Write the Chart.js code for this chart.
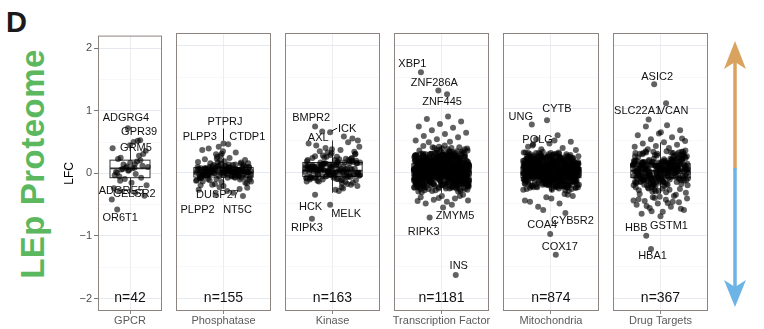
<!DOCTYPE html>
<html>
<head>
<meta charset="utf-8">
<script src="https://cdn.jsdelivr.net/npm/chart.js@4.4.1/dist/chart.umd.min.js"></script>
<style>
html, body { margin: 0; padding: 0; background: #fff; }
body { width: 764px; height: 329px; position: relative; overflow: hidden; font-family: "Liberation Sans", Arial, sans-serif; }
canvas.panel { position: absolute; top: 27px; }
#tag { position: absolute; left: 6px; top: 8px; font: bold 29px/1 "Liberation Sans", Arial, sans-serif; color: #1a1a1a; }
#side { position: absolute; left: 31.5px; top: 164px; transform: translate(-50%, -50%) rotate(-90deg);
  font: bold 33px/1 "Liberation Sans", Arial, sans-serif; letter-spacing: 0.5px; color: #5cb85f; white-space: nowrap; }
#arrow { position: absolute; left: 0; top: 0; }
</style>
</head>
<body>
<div id="tag">D</div>
<div id="side">LEp Proteome</div>
<svg id="arrow" width="764" height="329">
  <line x1="735" y1="60" x2="735" y2="169" stroke="#d9a35f" stroke-width="3.5"/>
  <line x1="735" y1="168" x2="735" y2="289" stroke="#6db4e6" stroke-width="3.5"/>
  <polygon points="735,41 746,69 735,62 724,69" fill="#d9a35f"/>
  <polygon points="735,307 746,280 735,287 724,280" fill="#6db4e6"/>
</svg>
<script>
const categories = ['GPCR', 'Phosphatase', 'Kinase', 'Transcription Factor', 'Mitochondria', 'Drug Targets'];
const nCounts = [42, 155, 163, 1181, 874, 367];

// boxplot stats
const boxQ1 = [-0.07, -0.08, -0.07, -0.06, -0.09, -0.09];
const boxMed = [0.08, -0.01, 0.02, 0.02, -0.01, 0.02];
const boxQ3 = [0.21, 0.07, 0.15, 0.13, 0.07, 0.13];
const whiskerLow = [-0.31, -0.26, -0.33, -0.33, -0.32, -0.34];
const whiskerHigh = [0.45, 0.23, 0.50, 0.42, 0.31, 0.47];

const yTicks = [-2, -1, 0, 1, 2];
const yGrid = [-2, -1.5, -1, -0.5, 0, 0.5, 1, 1.5, 2];

// labelled genes
const geneNames = ['ADGRG4', 'GPR39', 'GRM5', 'ADGRE5', 'CELSR2', 'OR6T1',
  'PTPRJ', 'PLPP3', 'CTDP1', 'DUSP27', 'PLPP2', 'NT5C',
  'BMPR2', 'AXL', 'ICK', 'HCK', 'MELK', 'RIPK3',
  'XBP1', 'ZNF286A', 'ZNF445', 'ZMYM5', 'RIPK3', 'INS',
  'UNG', 'CYTB', 'POLG', 'COA4', 'CYB5R2', 'COX17',
  'ASIC2', 'SLC22A1', 'VCAN', 'HBB', 'GSTM1', 'HBA1'];
const genePanel = [0, 0, 0, 0, 0, 0, 1, 1, 1, 1, 1, 1, 2, 2, 2, 2, 2, 2,
  3, 3, 3, 3, 3, 3, 4, 4, 4, 4, 4, 4, 5, 5, 5, 5, 5, 5];
const geneLFC = [0.72, 0.53, 0.45, -0.28, -0.31, -0.58,
  0.45, 0.40, 0.44, -0.22, -0.35, -0.33,
  0.72, 0.64, 0.63, -0.36, -0.52, -0.74,
  1.58, 1.29, 1.23, -0.56, -0.72, -1.63,
  0.75, 0.82, 0.42, -0.98, -0.65, -1.31,
  1.39, 0.83, 1.09, -1.01, -0.70, -1.22];
const geneJitter = [-0.04, 0.19, 0.0, -0.2, 0.1, -0.24,
  0.0, -0.06, 0.06, 0.0, -0.1, 0.12,
  -0.22, -0.13, -0.03, -0.22, -0.03, -0.26,
  -0.26, -0.04, 0.07, 0.02, -0.15, 0.18,
  -0.24, -0.05, -0.23, -0.01, 0.18, 0.06,
  -0.08, -0.15, 0.07, -0.18, 0.0, -0.12];

// the other (unlabelled) points per panel
const gpcrValues = [0.09, -0.12, 0.31, 0.05, -0.03, 0.52, 0.14, -0.19, 0.08, 0.23,
  -0.07, 0.11, 0.40, -0.01, 0.06, -0.36, 0.17, 0.02, 0.28, -0.09,
  0.10, 0.50, -0.05, 0.12, 0.04, -0.24, 0.19, 0.07, 0.36, -0.15,
  0.01, 0.21, 0.09, -0.42, 0.15, 0.25];

const phosValues = [0.02, -0.05, 0.11, -0.01, 0.06, -0.09, 0.03, 0.14, -0.03, 0.00,
  -0.12, 0.05, 0.08, -0.06, 0.01, 0.19, -0.02, -0.15, 0.04, 0.07,
  -0.08, 0.12, -0.04, 0.02, 0.26, -0.10, 0.00, 0.09, -0.18, 0.03,
  0.06, -0.07, 0.15, -0.01, 0.01, -0.13, 0.10, 0.04, -0.05, 0.31,
  -0.02, 0.07, -0.09, 0.02, 0.13, -0.24, 0.05, -0.03, 0.00, 0.08,
  0.17, -0.06, 0.03, -0.11, 0.01, 0.22, -0.04, 0.06, -0.16, 0.02,
  -0.08, 0.11, 0.00, -0.02, 0.05, -0.27, 0.09, 0.03, -0.07, 0.14,
  0.01, -0.05, 0.35, -0.01, 0.04, -0.12, 0.07, 0.02, -0.09, 0.18,
  -0.03, 0.06, -0.20, 0.00, 0.10, -0.06, 0.03, 0.24, -0.14, 0.01,
  0.08, -0.04, 0.05, -0.10, 0.12, -0.02, 0.00, -0.30, 0.06, 0.02,
  -0.07, 0.16, 0.04, -0.01, -0.17, 0.09, 0.01, -0.05, 0.28, -0.03,
  0.07, -0.11, 0.02, 0.13, -0.08, 0.00, 0.05, -0.25, 0.03, 0.20,
  -0.04, 0.10, -0.13, 0.01, 0.06, -0.02, 0.33, -0.07, 0.04, -0.19,
  0.08, 0.02, -0.06, 0.15, -0.01, -0.28, 0.11, 0.03, -0.09, 0.05,
  0.00, -0.03, 0.21, -0.15, 0.07, 0.37, -0.38, 0.29, -0.21];

const kinaseValues = [0.03, -0.05, 0.18, 0.08, -0.12, 0.01, 0.26, -0.02, 0.11, -0.08,
  0.14, 0.00, -0.15, 0.05, 0.33, -0.04, 0.09, -0.10, 0.21, 0.02,
  -0.06, 0.16, 0.04, -0.20, 0.12, 0.45, -0.01, 0.07, -0.13, 0.19,
  0.01, -0.08, 0.24, 0.06, -0.03, 0.10, -0.17, 0.30, 0.03, -0.06,
  0.13, 0.50, -0.11, 0.02, 0.17, -0.02, 0.08, -0.24, 0.15, 0.05,
  -0.09, 0.22, 0.00, 0.38, -0.05, 0.11, -0.14, 0.04, 0.27, -0.01,
  0.09, -0.07, 0.14, -0.28, 0.06, 0.19, 0.01, -0.10, 0.35, 0.03,
  -0.04, 0.12, 0.07, -0.16, 0.23, -0.02, 0.16, 0.42, -0.08, 0.05,
  0.10, -0.12, 0.02, 0.29, -0.06, 0.08, -0.19, 0.13, 0.00, 0.20,
  -0.03, 0.53, 0.06, -0.09, 0.15, 0.04, -0.22, 0.11, 0.25, -0.05,
  0.01, 0.17, -0.13, 0.07, 0.32, -0.01, 0.09, -0.07, 0.14, 0.40,
  -0.11, 0.03, 0.21, -0.04, 0.05, -0.26, 0.12, 0.18, -0.02, 0.08,
  0.47, -0.06, 0.10, 0.02, -0.15, 0.16, 0.36, -0.08, 0.04, 0.13,
  -0.01, 0.24, -0.10, 0.06, 0.00, 0.19, -0.18, 0.09, 0.28, -0.03,
  0.11, 0.05, -0.07, 0.15, -0.30, 0.02, 0.22, -0.05, 0.07, 0.56,
  -0.12, 0.14, 0.01, 0.08, -0.02, 0.31, -0.09];

const tfValues = [0.88, 0.84, 0.80, 0.76, 0.72, 0.70, 0.66, 0.62, 0.60, 0.57, 0.55, 0.52, 0.50, 0.48, 0.47,
  -0.36, -0.38, -0.40, -0.42, -0.44, -0.45, -0.47, -0.50, -0.38, -0.41, -0.46, -0.52,
  0.05, -0.12, 0.21, -0.03, 0.33, 0.10, -0.25, 0.01, 0.16, -0.08, 0.27, -0.18, 0.07, 0.39, -0.01, 0.13, -0.29, 0.03, 0.22, -0.06,
  0.11, -0.15, 0.30, 0.00, -0.22, 0.18, 0.06, -0.10, 0.36, 0.02, -0.04, 0.25, -0.31, 0.09, 0.14, -0.19, 0.04, 0.41, -0.07, 0.20,
  -0.02, 0.28, -0.13, 0.08, 0.17, -0.27, 0.12, -0.05, 0.34, 0.01, -0.16, 0.23, 0.06, -0.09, 0.38, -0.21, 0.15, 0.03, -0.01, 0.26,
  0.10, -0.24, 0.19, -0.03, 0.31, 0.05, -0.14, 0.12, -0.30, 0.07, 0.24, -0.08, 0.00, 0.35, -0.17, 0.09, 0.16, -0.11, 0.02, 0.29,
  -0.06, 0.14, -0.20, 0.21, 0.04, -0.28, 0.40, 0.11, -0.02, 0.18, -0.12, 0.06, 0.27, -0.23, 0.13, -0.04, 0.33, 0.01, -0.15, 0.08,
  0.22, -0.09, 0.03, 0.37, -0.26, 0.15, -0.01, 0.10, -0.18, 0.25, 0.05, -0.07, 0.30, -0.32, 0.12, 0.00, -0.13, 0.19, 0.07, -0.05,
  0.16, -0.21, 0.26, 0.02, -0.10, 0.42, 0.09, -0.16, 0.14, -0.02, 0.32, -0.27, 0.06, 0.20, -0.08, 0.11, -0.19, 0.04, 0.28, -0.03,
  0.13, 0.01, -0.24, 0.23, -0.06, 0.36, 0.08, -0.14, 0.17, -0.29, 0.05, 0.27, -0.11, 0.10, -0.01, 0.34, -0.20, 0.15, 0.03, -0.09,
  0.19, -0.04, 0.31, -0.17, 0.06, 0.12, -0.25, 0.24, 0.00, -0.12, 0.38, 0.09, -0.07, 0.21, -0.30, 0.14, 0.02, -0.15, 0.29, 0.07,
  -0.02, 0.17, -0.22, 0.04, 0.26, -0.10, 0.11, 0.33, -0.05, 0.08, -0.18, 0.20, -0.28, 0.13, 0.01, 0.39, -0.08, 0.16, -0.13, 0.05,
  0.24, -0.01, 0.10, -0.26, 0.30, 0.03, -0.16, 0.18, -0.06, 0.35, 0.12, -0.20, 0.07, -0.11, 0.22, 0.00, -0.31, 0.15, 0.27, -0.03,
  0.09, -0.14, 0.37, 0.02, -0.09, 0.19, -0.23, 0.11, 0.28, -0.04, 0.06, -0.17, 0.32, 0.14, -0.27, 0.04, 0.21, -0.07, 0.01, 0.25,
  0.02, -0.08, 0.15, -0.14, 0.07, 0.24, -0.03, 0.11, -0.19, 0.04, 0.18, -0.06, 0.09, -0.22, 0.13, 0.00, 0.27, -0.11, 0.06, -0.01,
  -0.16, 0.12, 0.03, 0.21, -0.07, 0.08, -0.24, 0.16, -0.02, 0.05, 0.29, -0.12, 0.01, 0.19, -0.09, 0.10, -0.18, 0.14, 0.04, -0.05,
  0.09, -0.21, 0.17, -0.04, 0.02, 0.25, -0.13, 0.07, -0.08, 0.12, 0.00, -0.17, 0.22, 0.05, -0.10, 0.15, -0.02, 0.28, -0.15, 0.03,
  0.13, -0.06, 0.08, -0.23, 0.19, 0.01, -0.11, 0.26, -0.04, 0.10, -0.16, 0.06, 0.17, -0.01, 0.23, -0.20, 0.04, 0.11, -0.07, 0.00,
  -0.12, 0.20, -0.03, 0.07, 0.14, -0.19, 0.02, 0.30, -0.09, 0.16, 0.05, -0.14, 0.09, -0.25, 0.12, 0.18, -0.05, 0.01, 0.24, -0.10,
  0.06, -0.02, 0.21, -0.15, 0.10, -0.07, 0.03, 0.17, -0.22, 0.08, 0.27, -0.04, 0.13, -0.12, 0.00, 0.22, -0.17, 0.05, -0.08, 0.15,
  -0.05, 0.11, -0.20, 0.04, 0.19, -0.09, 0.25, 0.01, -0.14, 0.09, -0.01, 0.16, -0.24, 0.07, 0.13, -0.06, 0.28, -0.11, 0.03, 0.20,
  0.14, -0.17, 0.06, 0.23, -0.03, 0.10, -0.12, 0.02, 0.18, -0.21, 0.08, -0.07, 0.26, 0.00, -0.15, 0.12, 0.05, -0.02, 0.21, -0.10,
  0.01, 0.17, -0.09, 0.12, -0.23, 0.07, 0.22, -0.05, 0.15, -0.13, 0.04, 0.29, -0.18, 0.09, -0.01, 0.19, -0.08, 0.11, -0.26, 0.06,
  -0.11, 0.08, 0.16, -0.02, 0.25, -0.16, 0.03, 0.13, -0.07, 0.20, -0.20, 0.05, 0.10, -0.12, 0.27, 0.00, -0.04, 0.17, -0.14, 0.09,
  0.04, -0.10, 0.22, -0.18, 0.11, 0.01, -0.06, 0.18, -0.25, 0.14, 0.07, -0.03, 0.24, -0.13, 0.02, 0.16, -0.09, 0.30, -0.01, 0.12,
  -0.07, 0.15, -0.14, 0.05, 0.21, -0.22, 0.09, -0.02, 0.13, 0.26, -0.11, 0.00, 0.18, -0.05, 0.08, -0.19, 0.23, 0.03, -0.16, 0.10,
  0.12, -0.04, 0.07, -0.20, 0.17, 0.02, -0.12, 0.28, -0.08, 0.06, 0.14, -0.24, 0.11, -0.01, 0.20, -0.15, 0.04, 0.25, -0.06, 0.01,
  -0.13, 0.19, 0.00, -0.09, 0.10, 0.23, -0.17, 0.05, -0.03, 0.15, -0.21, 0.08, 0.26, -0.10, 0.03, 0.13, -0.05, 0.18, -0.26, 0.07,
  0.05, -0.15, 0.24, -0.06, 0.12, -0.01, 0.20, -0.12, 0.02, 0.16, -0.19, 0.09, -0.04, 0.29, -0.08, 0.11, 0.00, -0.22, 0.14, 0.06,
  -0.03, 0.13, -0.18, 0.08, 0.27, -0.10, 0.04, 0.17, -0.14, 0.01, 0.22, -0.07, 0.10, -0.23, 0.15, 0.03, -0.02, 0.19, -0.11, 0.25,
  0.08, -0.12, 0.18, -0.01, 0.05, -0.20, 0.14, 0.24, -0.06, 0.11, -0.16, 0.02, 0.21, -0.09, 0.07, -0.25, 0.16, 0.00, 0.28, -0.04,
  -0.08, 0.10, 0.03, -0.17, 0.20, -0.02, 0.13, -0.13, 0.25, 0.06, -0.05, 0.15, -0.21, 0.09, 0.01, 0.18, -0.10, 0.23, -0.15, 0.04,
  0.11, -0.01, -0.19, 0.16, 0.07, -0.08, 0.22, -0.24, 0.12, 0.03, -0.11, 0.27, -0.03, 0.09, -0.16, 0.19, 0.05, -0.06, 0.14, 0.00,
  -0.14, 0.21, 0.06, -0.04, 0.17, -0.18, 0.10, 0.01, -0.09, 0.26, -0.12, 0.13, 0.04, -0.20, 0.08, 0.24, -0.02, 0.12, -0.07, 0.18];

const mitoValues = [0.58, 0.52, 0.48, 0.45, 0.40, 0.38, 0.36, 0.35, 0.50, 0.44,
  -0.36, -0.40, -0.45, -0.50, -0.55, -0.38, -0.42, -0.47, -0.35, -0.60,
  0.04, -0.11, 0.19, -0.02, 0.28, 0.08, -0.23, 0.00, 0.14, -0.07, 0.24, -0.17, 0.06, 0.31, -0.01, 0.12, -0.27, 0.02, 0.20, -0.05,
  0.10, -0.14, 0.26, -0.01, -0.20, 0.16, 0.05, -0.09, 0.30, 0.01, -0.04, 0.22, -0.29, 0.08, 0.13, -0.18, 0.03, 0.27, -0.06, 0.18,
  -0.02, 0.25, -0.12, 0.07, 0.15, -0.25, 0.11, -0.04, 0.29, 0.00, -0.15, 0.21, 0.05, -0.08, 0.32, -0.20, 0.13, 0.02, -0.01, 0.23,
  0.09, -0.22, 0.17, -0.03, 0.27, 0.04, -0.13, 0.11, -0.28, 0.06, 0.21, -0.07, 0.00, 0.30, -0.16, 0.08, 0.14, -0.10, 0.01, 0.25,
  -0.05, 0.12, -0.19, 0.19, 0.03, -0.26, 0.28, 0.10, -0.02, 0.16, -0.11, 0.05, 0.24, -0.21, 0.12, -0.04, 0.29, 0.01, -0.14, 0.07,
  0.20, -0.08, 0.02, 0.31, -0.24, 0.13, -0.01, 0.09, -0.17, 0.22, 0.04, -0.06, 0.26, -0.30, 0.11, 0.00, -0.12, 0.17, 0.06, -0.05,
  0.15, -0.19, 0.23, 0.01, -0.09, 0.30, 0.08, -0.15, 0.12, -0.02, 0.27, -0.25, 0.05, 0.18, -0.07, 0.10, -0.18, 0.03, 0.25, -0.03,
  0.11, 0.01, -0.22, 0.20, -0.06, 0.29, 0.07, -0.13, 0.15, -0.27, 0.04, 0.24, -0.10, 0.09, -0.01, 0.28, -0.19, 0.14, 0.02, -0.08,
  0.17, -0.04, 0.26, -0.16, 0.05, 0.11, -0.23, 0.21, 0.00, -0.11, 0.31, 0.08, -0.06, 0.19, -0.28, 0.13, 0.02, -0.14, 0.25, 0.06,
  -0.02, 0.15, -0.20, 0.03, 0.23, -0.09, 0.10, 0.28, -0.04, 0.07, -0.17, 0.18, -0.26, 0.12, 0.01, 0.30, -0.07, 0.14, -0.12, 0.04,
  -0.04, 0.13, -0.18, 0.06, 0.21, -0.09, 0.02, 0.16, -0.13, 0.09, -0.22, 0.04, 0.18, -0.06, 0.11, -0.01, 0.24, -0.15, 0.07, -0.03,
  0.10, -0.11, 0.03, 0.19, -0.20, 0.14, 0.00, -0.07, 0.22, -0.14, 0.05, 0.12, -0.02, -0.24, 0.17, 0.08, -0.10, 0.01, 0.20, -0.05,
  0.15, -0.16, 0.07, -0.03, 0.25, -0.12, 0.10, 0.02, -0.19, 0.13, -0.06, 0.18, -0.23, 0.05, 0.09, -0.01, 0.21, -0.09, 0.03, -0.14,
  -0.07, 0.20, -0.13, 0.04, 0.11, -0.21, 0.16, -0.04, 0.08, 0.23, -0.10, 0.01, -0.17, 0.14, 0.06, -0.25, 0.19, -0.02, 0.10, 0.03,
  0.05, -0.18, 0.12, 0.22, -0.08, 0.00, 0.17, -0.12, 0.07, -0.22, 0.14, -0.05, 0.24, 0.02, -0.15, 0.09, -0.01, 0.19, -0.10, 0.11,
  -0.02, 0.08, -0.20, 0.15, -0.06, 0.21, 0.03, -0.13, 0.12, -0.03, 0.18, -0.24, 0.06, 0.10, -0.09, 0.23, -0.16, 0.01, 0.14, -0.07,
  0.13, -0.10, 0.04, -0.17, 0.19, -0.01, 0.09, 0.25, -0.14, 0.02, -0.06, 0.16, -0.21, 0.11, 0.05, -0.11, 0.20, -0.04, 0.07, -0.19,
  0.01, 0.17, -0.08, 0.10, -0.23, 0.06, 0.22, -0.12, 0.14, -0.02, 0.03, -0.16, 0.24, -0.07, 0.12, 0.00, -0.20, 0.15, -0.05, 0.09,
  -0.11, 0.05, 0.18, -0.04, 0.13, -0.19, 0.08, -0.01, 0.21, -0.13, 0.11, 0.02, -0.09, 0.16, -0.25, 0.07, 0.23, -0.06, 0.04, -0.15,
  0.12, -0.03, -0.14, 0.20, 0.06, -0.08, 0.15, -0.22, 0.09, 0.01, -0.12, 0.24, -0.05, 0.10, -0.17, 0.17, 0.03, -0.02, 0.13, -0.10,
  0.07, -0.21, 0.11, -0.06, 0.22, 0.00, -0.15, 0.14, -0.03, 0.18, -0.11, 0.05, -0.24, 0.16, 0.02, 0.09, -0.08, 0.21, -0.13, 0.04,
  -0.09, 0.14, 0.02, -0.18, 0.10, 0.25, -0.05, 0.07, -0.12, 0.19, -0.01, -0.20, 0.12, 0.04, -0.07, 0.22, -0.16, 0.08, 0.00, 0.15,
  0.03, -0.13, 0.20, -0.09, 0.06, -0.02, 0.17, -0.23, 0.10, 0.13, -0.06, 0.01, 0.23, -0.15, 0.08, -0.10, 0.16, -0.04, -0.19, 0.11,
  -0.05, 0.09, -0.16, 0.24, 0.04, -0.11, 0.13, -0.01, 0.18, -0.21, 0.06, 0.20, -0.08, 0.02, -0.14, 0.11, 0.05, -0.24, 0.15, -0.03,
  0.14, -0.07, 0.05, -0.12, 0.21, 0.01, -0.18, 0.10, -0.04, 0.16, -0.09, 0.25, 0.03, -0.15, 0.08, -0.02, 0.19, -0.22, 0.12, 0.00];

const drugValues = [0.74, 0.72, 0.66, 0.61, 0.58, 0.55, 0.52, 0.49, 0.47, 0.45, 0.43, 0.41, 0.40, 0.38, 0.36, 0.53, 0.63,
  -0.35, -0.38, -0.40, -0.42, -0.44, -0.46, -0.48, -0.50, -0.52, -0.55, -0.57, -0.60, -0.63, -0.66,
  -0.36, -0.41, -0.45, -0.49, -0.54, -0.58, -0.39, -0.43, -0.47, -0.62, -0.33,
  0.06, -0.13, 0.22, -0.04, 0.30, 0.09, -0.26, 0.01, 0.15, -0.09, 0.26, -0.19, 0.05, 0.33, -0.02, 0.12, -0.30, 0.03, 0.19, -0.07,
  0.11, -0.16, 0.28, 0.00, -0.23, 0.17, 0.07, -0.11, 0.32, 0.02, -0.05, 0.24, -0.31, 0.08, 0.14, -0.20, 0.04, 0.29, -0.08, 0.21,
  -0.03, 0.27, -0.14, 0.08, 0.18, -0.28, 0.12, -0.06, 0.31, 0.01, -0.17, 0.23, 0.06, -0.10, 0.34, -0.22, 0.16, 0.03, -0.01, 0.25,
  0.10, -0.25, 0.19, -0.04, 0.29, 0.05, -0.15, 0.13, -0.32, 0.07, 0.22, -0.09, 0.00, 0.31, -0.18, 0.09, 0.17, -0.12, 0.02, 0.27,
  -0.06, 0.14, -0.21, 0.20, 0.04, -0.29, 0.30, 0.11, -0.03, 0.18, -0.13, 0.06, 0.26, -0.24, 0.13, -0.05, 0.32, 0.01, -0.16, 0.08,
  0.21, -0.10, 0.03, 0.33, -0.27, 0.15, -0.02, 0.10, -0.19, 0.24, 0.05, -0.08, 0.28, -0.31, 0.12, 0.00, -0.14, 0.19, 0.07, -0.06,
  0.16, -0.22, 0.25, 0.02, -0.11, 0.31, 0.09, -0.17, 0.14, -0.03, 0.29, -0.26, 0.06, 0.20, -0.09, 0.11, -0.20, 0.04, 0.27, -0.04,
  0.12, 0.01, -0.24, 0.22, -0.07, 0.30, 0.08, -0.15, 0.17, -0.28, 0.05, 0.26, -0.12, 0.10, -0.02, 0.32, -0.21, 0.15, 0.03, -0.10,
  0.03, -0.09, 0.14, -0.04, 0.08, -0.15, 0.11, 0.00, -0.11, 0.18, -0.02, 0.06, -0.19, 0.13, 0.01, -0.07, 0.16, -0.13, 0.09, -0.01,
  0.12, -0.05, -0.17, 0.07, 0.19, -0.10, 0.04, -0.03, 0.15, -0.20, 0.10, 0.02, -0.08, 0.17, -0.14, 0.05, -0.01, 0.13, -0.06, 0.20,
  -0.12, 0.08, 0.01, -0.16, 0.14, -0.04, 0.21, -0.09, 0.06, 0.11, -0.18, 0.03, -0.02, 0.16, -0.11, 0.09, 0.18, -0.07, 0.00, -0.14,
  0.05, 0.15, -0.08, 0.10, -0.21, 0.02, 0.12, -0.13, 0.07, -0.03, 0.19, -0.10, 0.04, -0.17, 0.14, -0.05, 0.08, 0.01, -0.12, 0.17,
  -0.06, 0.11, -0.15, 0.03, 0.16, -0.01, -0.19, 0.09, 0.13, -0.08, 0.00, 0.20, -0.11, 0.06, -0.04, 0.15, -0.16, 0.10, 0.02, -0.09];

const panelValues = [gpcrValues, phosValues, kinaseValues, tfValues, mitoValues, drugValues];

// layout (pixels)
const panelLeft = [98, 176, 285, 394, 503, 613];
const panelWidth = [64, 95, 95, 95, 96, 95];
const PAD_X = 7;
const AXIS_LEFT = 58;
const CANVAS_H = 302;
const JITTER = 0.35;

// label offset from its point [dx, dy], optional segment [x1, y1, x2, y2] from the point
const labelLayout = [
  [-2, -10], [-1, -8], [6, 3], [2, 0], [-1, 1], [3, 8],
  [1.5, -21.5, [0, -15, 0, -3]], [-19, -10], [19, -7], [-6, 9], [-18, 16], [4.5, 17],
  [-4, -8.5], [-4, 6.5], [17, -3, [1, -1, 7, -4]], [-4.5, 12], [16, 9], [-5, 9],
  [-8.5, -8], [-4, -7.5], [-5, 8], [12, 9], [-6, 14.5], [3, -9],
  [-11, -7.5], [10, -11], [5, -5.5], [-8, -9], [7, 8], [4, -8],
  [3, -7], [-11, -8.5], [7, 8], [-10, -8], [8.5, 10], [1.5, 7]
];

const FONT = '"Liberation Sans", Arial, sans-serif';
Chart.defaults.font.family = FONT;

// spread points over the box width like geom_jitter
const jitterFor = (i) => (((i + 1) * 0.618034) % 1) * 2 * JITTER - JITTER;

const fmtTick = (v) => (v < 0 ? '\u2212' + Math.abs(v) : String(v));

categories.forEach((cat, p) => {
  const first = p === 0;
  const canvas = document.createElement('canvas');
  canvas.className = 'panel';
  const left = first ? AXIS_LEFT : panelLeft[p] - PAD_X;
  const width = panelLeft[p] + panelWidth[p] + PAD_X - left;
  canvas.width = width;
  canvas.height = CANVAS_H;
  canvas.style.left = left + 'px';
  canvas.style.width = width + 'px';
  canvas.style.height = CANVAS_H + 'px';
  document.body.appendChild(canvas);

  const points = panelValues[p].map((v, i) => ({ x: 1 + jitterFor(i), y: v }));
  geneNames.forEach((g, k) => {
    if (genePanel[k] === p) points.push({ x: 1 + geneJitter[k], y: geneLFC[k] });
  });

  const boxPlugin = {
    id: 'box' + p,
    beforeDatasetsDraw(chart) {
      const { ctx, scales: { x, y } } = chart;
      const x0 = x.getPixelForValue(0.625);
      const x1 = x.getPixelForValue(1.375);
      const xc = Math.round(x.getPixelForValue(1)) + 0.5;
      const yq1 = y.getPixelForValue(boxQ1[p]);
      const yq3 = y.getPixelForValue(boxQ3[p]);
      const ymed = y.getPixelForValue(boxMed[p]);
      ctx.save();
      ctx.strokeStyle = '#333';
      ctx.lineWidth = 1;
      ctx.beginPath();
      ctx.moveTo(xc, yq3); ctx.lineTo(xc, y.getPixelForValue(whiskerHigh[p]));
      ctx.moveTo(xc, yq1); ctx.lineTo(xc, y.getPixelForValue(whiskerLow[p]));
      ctx.stroke();
      ctx.fillStyle = '#fff';
      ctx.fillRect(x0, yq3, x1 - x0, yq1 - yq3);
      ctx.strokeRect(x0, yq3, x1 - x0, yq1 - yq3);
      ctx.lineWidth = 1.8;
      ctx.beginPath();
      ctx.moveTo(x0, ymed); ctx.lineTo(x1, ymed);
      ctx.stroke();
      ctx.restore();
    },
    afterDatasetsDraw(chart) {
      const { ctx, chartArea: a, scales: { x, y } } = chart;
      ctx.save();
      ctx.strokeStyle = '#8c8480';
      ctx.lineWidth = 1;
      ctx.strokeRect(a.left + 0.5, a.top + 0.5, a.right - a.left - 1, a.bottom - a.top - 1);

      ctx.fillStyle = '#111';
      ctx.textAlign = 'center';
      ctx.textBaseline = 'middle';
      ctx.font = '14px ' + FONT;
      ctx.fillText('n=' + nCounts[p], x.getPixelForValue(1), y.getPixelForValue(-2));

      ctx.font = '11px ' + FONT;
      ctx.strokeStyle = '#111';
      geneNames.forEach((g, k) => {
        if (genePanel[k] !== p) return;
        const px = x.getPixelForValue(1 + geneJitter[k]);
        const py = y.getPixelForValue(geneLFC[k]);
        const [dx, dy, seg] = labelLayout[k];
        if (seg) {
          ctx.beginPath();
          ctx.moveTo(px + seg[0], py + seg[1]);
          ctx.lineTo(px + seg[2], py + seg[3]);
          ctx.stroke();
        }
        ctx.fillText(g, px + dx, py + dy);
      });
      ctx.restore();
    }
  };

  new Chart(canvas, {
    type: 'scatter',
    data: {
      datasets: [{
        data: points,
        pointRadius: 3,
        pointHoverRadius: 3,
        pointBorderWidth: 0,
        pointBackgroundColor: 'rgba(0,0,0,0.62)'
      }]
    },
    options: {
      responsive: false,
      animation: false,
      devicePixelRatio: 1,
      layout: { padding: { left: first ? 0 : PAD_X, right: PAD_X, top: 6, bottom: 0 } },
      plugins: { legend: { display: false }, tooltip: { enabled: false } },
      events: [],
      scales: {
        x: {
          type: 'linear',
          min: 0.4,
          max: 1.6,
          afterBuildTicks: (s) => { s.ticks = [{ value: 1 }]; },
          afterFit: (s) => { s.height = 18; },
          ticks: { callback: () => cat, color: '#5a5a5a', font: { size: 11 }, padding: 0, maxRotation: 0, autoSkip: false },
          grid: { color: '#e6e9ee', lineWidth: 0.8, tickColor: '#666', tickLength: 3 },
          border: { display: false }
        },
        y: {
          type: 'linear',
          min: -2.2,
          max: 2.2,
          afterBuildTicks: (s) => { s.ticks = yGrid.map((v) => ({ value: v })); },
          afterFit: (s) => { s.width = first ? panelLeft[0] - AXIS_LEFT : 0; },
          ticks: {
            display: first,
            color: '#4d4d4d',
            font: { size: 11 },
            padding: 2,
            callback: (v) => (yTicks.includes(v) ? fmtTick(v) : '')
          },
          grid: {
            color: (c) => (Number.isInteger(c.tick.value) ? '#e3e7ed' : '#f1f3f6'),
            lineWidth: (c) => (Number.isInteger(c.tick.value) ? 0.9 : 0.6),
            drawTicks: first,
            tickLength: 4,
            tickColor: (c) => (Number.isInteger(c.tick.value) ? '#666' : 'rgba(0,0,0,0)')
          },
          border: { display: false },
          title: { display: first, text: 'LFC', color: '#000', font: { size: 12 } }
        }
      }
    },
    plugins: [boxPlugin]
  });
});
</script>
</body>
</html>
